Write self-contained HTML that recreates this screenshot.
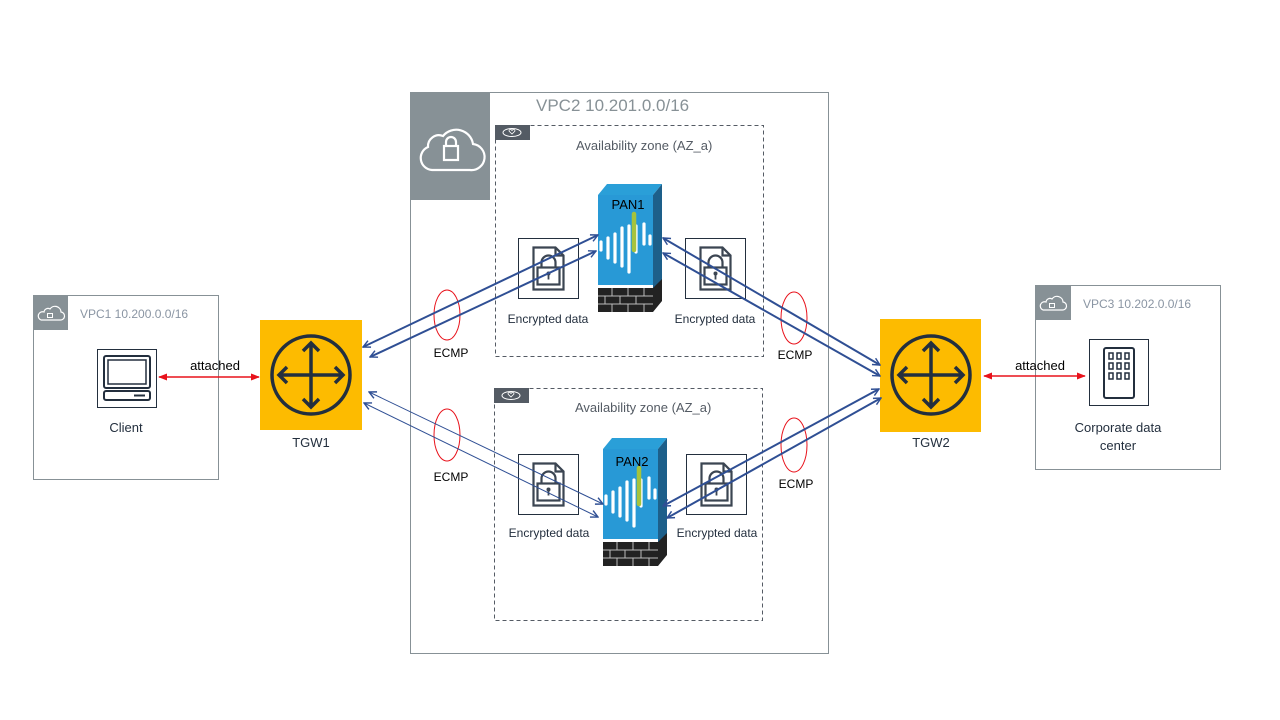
<!DOCTYPE html>
<html><head><style>
body{margin:0;background:#fff;}
svg{display:block;font-family:"Liberation Sans",sans-serif;}
</style></head><body>
<svg width="1280" height="720" viewBox="0 0 1280 720" xmlns="http://www.w3.org/2000/svg">
<defs>
<marker id="ab" viewBox="0 0 10 10" refX="9" refY="5" markerWidth="9" markerHeight="9" orient="auto-start-reverse" markerUnits="userSpaceOnUse"><path d="M1,1 L9,5 L1,9" fill="none" stroke="#2f4f94" stroke-width="1.6"/></marker>
<marker id="ar" viewBox="0 0 10 10" refX="9" refY="5" markerWidth="9" markerHeight="9" orient="auto-start-reverse" markerUnits="userSpaceOnUse"><path d="M0,1 L10,5 L0,9z" fill="#e8121b"/></marker>
<g id="tgw"><circle cx="0" cy="0" r="39" fill="none" stroke="#232f3e" stroke-width="3.5"/><path d="M0,-32V32M-32,0H32M-8,-24L0,-32L8,-24M-8,24L0,32L8,24M-24,-8L-32,0L-24,8M24,-8L32,0L24,8" fill="none" stroke="#232f3e" stroke-width="3.5"/></g>
<g id="enc"><rect x="0" y="0" width="60" height="60" fill="#fff" stroke="#232f3e" stroke-width="1"/><path d="M15,9 h22 l8,8 v34 h-30z M37,9 v8 h8" fill="none" stroke="#3b4552" stroke-width="2.2"/><path d="M23,29 v-5 a7,7 0 0 1 14,0 v5" fill="none" stroke="#3b4552" stroke-width="2.2"/><rect x="19" y="29" width="22" height="17" fill="#fff" stroke="#3b4552" stroke-width="2.2"/><circle cx="30" cy="35" r="2" fill="#3b4552"/><path d="M30,36v5" stroke="#3b4552" stroke-width="1.8"/></g>
<g id="azt"><rect x="0" y="0" width="35" height="15" fill="#545b64"/><ellipse cx="17" cy="7.5" rx="9" ry="4" fill="none" stroke="#fff" stroke-width="1"/><path d="M14,6 a1.5,1.5 0 0 1 3,0 a1.5,1.5 0 0 1 3,0 l-3,3z" fill="none" stroke="#fff" stroke-width="0.8"/></g>
<g id="fw"><path d="M0,11 L9,0 H64 L55,11z" fill="#2a9fd8"/><path d="M55,11 L64,0 V97 L55,108z" fill="#1d5f8a"/><rect x="0" y="11" width="55" height="90" fill="#2899d6"/><path d="M0,104 h55 v24 h-55z M55,104 L64,95 v22 L55,128z" fill="#222"/><path d="M0,112h55M0,120h55M14,104v8M30,104v8M46,104v8M7,112v8M22,112v8M38,112v8M14,120v8M30,120v8M46,120v8" stroke="#bbb" stroke-width="1"/><g stroke="#fff" stroke-width="3.2" stroke-linecap="round"><path d="M3,58v8M10,54v20M17,50v28M24,44v38M31,42v46M38,42v26M46,40v20M52,52v8"/></g><path d="M36,30v36" stroke="#a6c33c" stroke-width="4.5" stroke-linecap="round"/></g>
</defs>

<!-- VPC2 -->
<rect x="410.5" y="92.5" width="418" height="561" fill="none" stroke="#879196" stroke-width="1"/>
<rect x="410" y="92" width="80" height="108" fill="#879196"/>
<path d="M432,170 h38 a13,13 0 0 0 3,-26 a17,17 0 0 0 -30,-8 a11,11 0 0 0 -15,11 a12,12 0 0 0 4,23z" fill="none" stroke="#fff" stroke-width="2.2"/>
<rect x="444" y="146" width="14" height="14" fill="none" stroke="#fff" stroke-width="2.2"/>
<path d="M446,146v-4a5,5 0 0 1 10,0v4" fill="none" stroke="#fff" stroke-width="2.2"/>
<text x="536" y="111" font-size="17" fill="#879196">VPC2 10.201.0.0/16</text>

<!-- AZ boxes -->
<rect x="495.5" y="125.5" width="268" height="231" fill="none" stroke="#545b64" stroke-dasharray="4,3"/>
<use href="#azt" x="495" y="125"/>
<text x="576" y="150" font-size="13" fill="#545b64">Availability zone (AZ_a)</text>
<rect x="494.5" y="388.5" width="268" height="232" fill="none" stroke="#545b64" stroke-dasharray="4,3"/>
<use href="#azt" x="494" y="388"/>
<text x="575" y="412" font-size="13" fill="#545b64">Availability zone (AZ_a)</text>

<!-- VPC1 -->
<rect x="33.5" y="295.5" width="185" height="184" fill="none" stroke="#879196"/>
<rect x="33" y="295" width="35" height="35" fill="#879196"/>
<path d="M41,320h19a4,4 0 0 0 1,-8a6,6 0 0 0 -11,-3a4,4 0 0 0 -6,3a4,4 0 0 0 -3,8z" fill="none" stroke="#fff" stroke-width="1.2"/>
<rect x="47.5" y="313.5" width="5" height="4" fill="none" stroke="#fff" stroke-width="1"/>
<text x="80" y="318" font-size="12" fill="#8a95a3">VPC1 10.200.0.0/16</text>
<rect x="97.5" y="349.5" width="59" height="58" fill="#fff" stroke="#232f3e"/>
<rect x="104" y="356" width="46" height="32" rx="2" fill="none" stroke="#232f3e" stroke-width="2"/>
<rect x="108" y="360" width="38" height="24" fill="none" stroke="#232f3e" stroke-width="1.5"/>
<rect x="104" y="391" width="46" height="9" rx="2" fill="none" stroke="#232f3e" stroke-width="2"/>
<path d="M134,395.5h11" stroke="#232f3e" stroke-width="2"/>
<text x="126" y="432" font-size="13" fill="#232f3e" text-anchor="middle">Client</text>

<!-- VPC3 -->
<rect x="1035.5" y="285.5" width="185" height="184" fill="none" stroke="#879196"/>
<rect x="1035" y="285" width="36" height="35" fill="#879196"/>
<path d="M1043,310h19a4,4 0 0 0 1,-8a6,6 0 0 0 -11,-3a4,4 0 0 0 -6,3a4,4 0 0 0 -3,8z" fill="none" stroke="#fff" stroke-width="1.2"/>
<rect x="1049.5" y="303.5" width="5" height="4" fill="none" stroke="#fff" stroke-width="1"/>
<text x="1083" y="308" font-size="12" fill="#8a95a3">VPC3 10.202.0.0/16</text>
<rect x="1089.5" y="339.5" width="59" height="66" fill="#fff" stroke="#232f3e"/>
<rect x="1104" y="348" width="30" height="50" rx="2" fill="none" stroke="#232f3e" stroke-width="2"/>
<g fill="none" stroke="#232f3e" stroke-width="1.5">
<rect x="1109" y="353" width="4" height="6"/><rect x="1117" y="353" width="4" height="6"/><rect x="1125" y="353" width="4" height="6"/>
<rect x="1109" y="363" width="4" height="6"/><rect x="1117" y="363" width="4" height="6"/><rect x="1125" y="363" width="4" height="6"/>
<rect x="1109" y="373" width="4" height="6"/><rect x="1117" y="373" width="4" height="6"/><rect x="1125" y="373" width="4" height="6"/></g>
<text x="1118" y="432" font-size="13" fill="#232f3e" text-anchor="middle">Corporate data</text>
<text x="1118" y="450" font-size="13" fill="#232f3e" text-anchor="middle">center</text>

<!-- TGWs -->
<rect x="260" y="320" width="102" height="110" fill="#fdbb00"/>
<use href="#tgw" x="311" y="375"/>
<text x="311" y="447" font-size="13" fill="#232f3e" text-anchor="middle">TGW1</text>
<rect x="880" y="319" width="101" height="113" fill="#fdbb00"/>
<use href="#tgw" x="931" y="375"/>
<text x="931" y="447" font-size="13" fill="#232f3e" text-anchor="middle">TGW2</text>

<!-- attached -->
<line x1="159" y1="377" x2="259" y2="377" stroke="#e8121b" stroke-width="1.5" marker-start="url(#ar)" marker-end="url(#ar)"/>
<text x="215" y="370" font-size="13" fill="#000" text-anchor="middle">attached</text>
<line x1="984" y1="376" x2="1085" y2="376" stroke="#e8121b" stroke-width="1.5" marker-start="url(#ar)" marker-end="url(#ar)"/>
<text x="1040" y="370" font-size="13" fill="#000" text-anchor="middle">attached</text>

<!-- enc boxes -->
<use href="#enc" x="518.5" y="238.5"/>
<use href="#enc" x="685.5" y="238.5"/>
<use href="#enc" x="518.5" y="454.5"/>
<use href="#enc" x="686.5" y="454.5"/>
<text x="548" y="323" font-size="12" fill="#232f3e" text-anchor="middle">Encrypted data</text>
<text x="715" y="323" font-size="12" fill="#232f3e" text-anchor="middle">Encrypted data</text>
<text x="549" y="537" font-size="12" fill="#232f3e" text-anchor="middle">Encrypted data</text>
<text x="717" y="537" font-size="12" fill="#232f3e" text-anchor="middle">Encrypted data</text>

<!-- firewalls -->
<use href="#fw" x="598" y="184"/>
<text x="628" y="209" font-size="13" fill="#000" text-anchor="middle">PAN1</text>
<use href="#fw" x="603" y="438"/>
<text x="632" y="466" font-size="13" fill="#000" text-anchor="middle">PAN2</text>

<!-- ellipses -->
<g fill="none" stroke="#e8121b" stroke-width="1">
<ellipse cx="447" cy="315" rx="13" ry="25"/>
<ellipse cx="794" cy="318" rx="13" ry="26"/>
<ellipse cx="447" cy="435" rx="13" ry="26"/>
<ellipse cx="794" cy="445" rx="13" ry="27"/>
</g>
<g font-size="12" fill="#000" text-anchor="middle">
<text x="451" y="357">ECMP</text><text x="795" y="359">ECMP</text>
<text x="451" y="481">ECMP</text><text x="796" y="488">ECMP</text>
</g>

<!-- connectors -->
<g stroke="#2f4f94" fill="none">
<line x1="363" y1="347" x2="598" y2="235" stroke-width="2" marker-start="url(#ab)" marker-end="url(#ab)"/>
<line x1="370" y1="357" x2="596" y2="251" stroke-width="2" marker-start="url(#ab)" marker-end="url(#ab)"/>
<line x1="369" y1="392" x2="603" y2="504" stroke-width="1" marker-start="url(#ab)" marker-end="url(#ab)"/>
<line x1="364" y1="403" x2="598" y2="517" stroke-width="1" marker-start="url(#ab)" marker-end="url(#ab)"/>
<line x1="663" y1="238" x2="880" y2="365" stroke-width="2" marker-start="url(#ab)" marker-end="url(#ab)"/>
<line x1="663" y1="253" x2="880" y2="376" stroke-width="2" marker-start="url(#ab)" marker-end="url(#ab)"/>
<line x1="663" y1="506" x2="879" y2="389" stroke-width="2" marker-start="url(#ab)" marker-end="url(#ab)"/>
<line x1="667" y1="518" x2="881" y2="398" stroke-width="2" marker-start="url(#ab)" marker-end="url(#ab)"/>
</g>
</svg>
</body></html>
